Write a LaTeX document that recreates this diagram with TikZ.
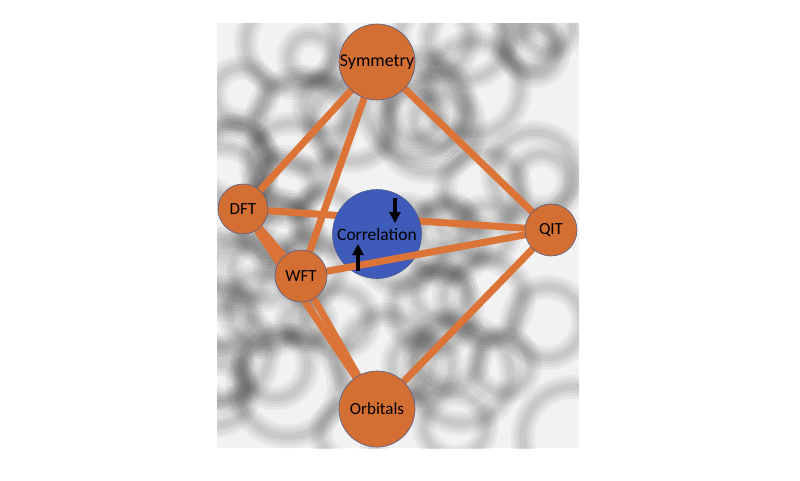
\documentclass[tikz,border=0pt]{standalone}
\usepackage{fontspec}
\setmainfont{Carlito}
\usetikzlibrary{arrows.meta}
\definecolor{orng}{HTML}{D46F33}
\definecolor{edgeor}{HTML}{DC7437}
\definecolor{corrblue}{HTML}{3E5BB9}
\definecolor{rim}{HTML}{4F5F8F}
\pgfdeclarelayer{tex}
\pgfdeclarelayer{low}
\pgfdeclarelayer{mid}
\pgfsetlayers{tex,low,mid,main}
\tikzset{
  bub/.style={circle, fill=orng, draw=rim, line width=0.6pt, inner sep=0pt, font=\fontsize{17}{20}\selectfont},
  link/.style={draw=edgeor, line width=7pt},
  spin/.style={-{Triangle[length=11pt,width=11pt]}, line width=3.5pt, black},
  blob/.style={draw=black, line width=#1, opacity=0.045}
}
\begin{document}
\begin{tikzpicture}[x=1pt,y=-1pt]
\useasboundingbox (0,0) rectangle (800,480);
% nodes
\node[bub, minimum size=76pt, font=\fontsize{18}{21}\selectfont] (sym) at (377,62) {Symmetry};
\node[bub, minimum size=50pt] (dft) at (243,209) {DFT};
\node[bub, minimum size=52pt] (qit) at (551,230) {QIT};
\node[bub, minimum size=52pt] (wft) at (301,276) {WFT};
\node[bub, minimum size=76pt] (orb) at (377,409) {Orbitals};
\begin{pgfonlayer}{low}
\node[circle, fill=corrblue, draw=rim, line width=0.6pt, minimum size=89pt, inner sep=0pt, font=\fontsize{17.5}{21}\selectfont] (cor) at (377,234) {Correlation};
\end{pgfonlayer}
% textured background
\begin{pgfonlayer}{tex}
\fill[white] (0,0) rectangle (800,480);
\begin{scope}
\clip (217,23) rectangle (579,448);
\fill[gray!10] (217,23) rectangle (579,448);
\pgfmathsetseed{11}
\foreach \i in {1,...,55}{
  \pgfmathsetmacro{\cx}{217+rnd*362}
  \pgfmathsetmacro{\cy}{23+rnd*425}
  \pgfmathsetmacro{\rr}{20+rnd*32}
  \draw[blob=24pt] (\cx,\cy) circle (\rr);
  \draw[blob=18pt] (\cx,\cy) circle (\rr);
  \draw[blob=12pt] (\cx,\cy) circle (\rr);
  \draw[blob=7pt] (\cx,\cy) circle (\rr);
}
\end{scope}
\path[link] (dft.center) -- (qit.center);
\end{pgfonlayer}
\begin{pgfonlayer}{mid}
\path[link] (sym.center) -- (dft.center);
\path[link] (sym.center) -- (wft.center);
\path[link] (sym.center) -- (qit.center);
\path[link] (dft.center) -- (wft.center);
\path[link] (dft.center) -- (orb.center);
\path[link] (wft.center) -- (orb.center);
\path[link] (orb.center) -- (qit.center);
\path[link] (wft.center) -- (qit.center);
\end{pgfonlayer}
% spins
\coordinate (dnA) at (395,198);
\coordinate (dnB) at (395,223);
\coordinate (upA) at (358,271);
\coordinate (upB) at (358,244);
\draw[spin] (dnA) -- (dnB);
\draw[spin] (upA) -- (upB);
\end{tikzpicture}
\end{document}
